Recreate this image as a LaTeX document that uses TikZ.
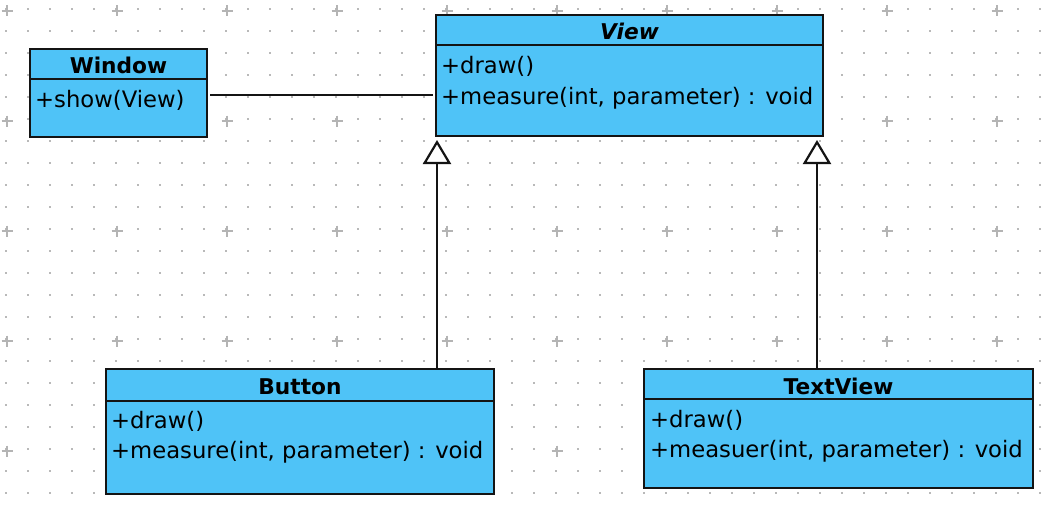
\documentclass[tikz,border=0pt]{standalone}
\usepackage{fontspec}
\setmainfont{DejaVu Sans}
\usetikzlibrary{arrows.meta,calc}
\definecolor{umlfill}{RGB}{79,195,247}
\definecolor{umlline}{RGB}{20,20,20}
\definecolor{dotgray}{RGB}{185,185,185}
\definecolor{crossgray}{RGB}{180,180,180}
\begin{document}
\begin{tikzpicture}[x=1pt,y=-1pt,
  classbox/.style={draw=umlline, fill=umlfill, line width=2.3pt, anchor=north west,
    inner sep=0pt, outer sep=0pt, rectangle},
  classtitle/.style={anchor=base, inner sep=0pt, font=\fontsize{21.7}{26}\selectfont\bfseries},
  member/.style={anchor=base west, inner sep=0pt, font=\fontsize{22.7}{28}\selectfont},
  divider/.style={draw=umlline, line width=2.3pt},
  link/.style={draw=umlline, line width=2.2pt},
  gen/.style={link, -{Triangle[open, length=24pt, width=28pt, line width=2.2pt]}},
  griddot/.style={fill=dotgray},
  gridcross/.style={draw=crossgray, line width=1.8pt}
]
\useasboundingbox (0,0) rectangle (1048,508);
\fill[white] (0,0) rectangle (1048,508);
% grid
\foreach \i in {0,...,47} {
  \foreach \j in {0,...,22} {
    \fill[griddot] ({5.3+22*\i},{8.3+22*\j}) rectangle ++(1.4,1.4);
  }
}
\foreach \i in {0,...,9} {
  \foreach \j in {0,...,4} {
    \draw[gridcross] ({7+110*\i-5.5},{11+110*\j}) -- ++(11,0);
    \draw[gridcross] ({7+110*\i},{11+110*\j-5.5}) -- ++(0,11);
  }
}
% classes
\node[classbox, minimum width=177pt, minimum height=88pt] (win) at (30,49) {};
\draw[divider] ($(win.north west)+(0,30)$) -- ($(win.north east)+(0,30)$);
\node[classtitle] (wint) at ($(win.north)+(0,25)$) {Window};
\node[member] (winm1) at ($(win.north west)+(5,59)$) {+show(View)};

\node[classbox, minimum width=387pt, minimum height=121pt] (view) at (436,15) {};
\draw[divider] ($(view.north west)+(0,30)$) -- ($(view.north east)+(0,30)$);
\node[classtitle] (viewt) at ($(view.north)+(0,25)$) {\itshape View};
\node[member] (viewm1) at ($(view.north west)+(5,59)$) {+draw()};
\node[member] (viewm2) at ($(view.north west)+(5,89)$) {+measure(int, parameter) : void};

\node[classbox, minimum width=388pt, minimum height=125pt] (button) at (106,369) {};
\draw[divider] ($(button.north west)+(0,32)$) -- ($(button.north east)+(0,32)$);
\node[classtitle] (buttont) at ($(button.north)+(0,25)$) {Button};
\node[member] (buttonm1) at ($(button.north west)+(5,59)$) {+draw()};
\node[member] (buttonm2) at ($(button.north west)+(5,89)$) {+measure(int, parameter) : void};

\node[classbox, minimum width=389pt, minimum height=119pt] (textview) at (644,369) {};
\draw[divider] ($(textview.north west)+(0,30)$) -- ($(textview.north east)+(0,30)$);
\node[classtitle] (textviewt) at ($(textview.north)+(0,25)$) {TextView};
\node[member] (textviewm1) at ($(textview.north west)+(6,58)$) {+draw()};
\node[member] (textviewm2) at ($(textview.north west)+(6,88)$) {+measuer(int, parameter) : void};

% connectors
\coordinate (assocY) at (0,95);
\draw[link] ([xshift=3pt]win.east |- assocY) -- ([xshift=-3pt]view.west |- assocY);
\coordinate (tipA) at (437,140);
\coordinate (tipB) at (817,140);
\draw[gen] (button.north -| tipA) -- (tipA);
\draw[gen] (textview.north -| tipB) -- (tipB);
\end{tikzpicture}
\end{document}
